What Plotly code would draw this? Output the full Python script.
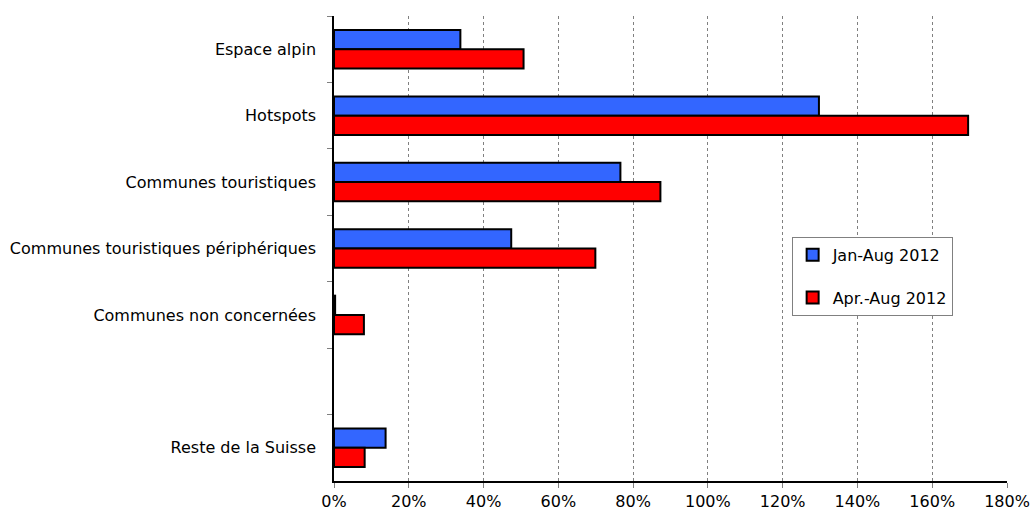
import plotly.graph_objects as go

# Regions (top to bottom); the blank entry leaves an empty slot before the national total
categories = [
    "Espace alpin",
    "Hotspots",
    "Communes touristiques",
    "Communes touristiques périphériques",
    "Communes non concernées",
    " ",
    "Reste de la Suisse",
]

# Growth in percent
jan_aug_2012 = [33.8, 129.7, 76.6, 47.4, 0.3, None, 13.8]
apr_aug_2012 = [50.7, 169.6, 87.3, 69.9, 8.0, None, 8.2]

series_names = ["Jan-Aug 2012", "Apr.-Aug 2012"]
series_colors = ["#3366FF", "#FF0000"]

x_ticks = list(range(0, 181, 20))
x_tick_labels = [f"{v}%" for v in x_ticks]

FONT = "DejaVu Sans"

fig = go.Figure()
for name, values, color in zip(series_names, [jan_aug_2012, apr_aug_2012], series_colors):
    fig.add_trace(go.Bar(
        y=categories,
        x=values,
        name=name,
        orientation="h",
        legendgroup=name,
        marker=dict(color=color, line=dict(color="#000000", width=2)),
    ))

fig.update_layout(
    width=1032,
    height=513,
    margin=dict(l=334, r=25, t=16, b=32),
    paper_bgcolor="white",
    plot_bgcolor="white",
    barmode="group",
    bargap=0.42,
    bargroupgap=0,
    font=dict(family=FONT, size=16, color="#000000"),
    legend=dict(
        x=0.68,
        y=0.525,
        xanchor="left",
        yanchor="top",
        bgcolor="white",
        bordercolor="#808080",
        borderwidth=1,
        tracegroupgap=19,
        itemwidth=30,
        font=dict(family=FONT, size=16, color="#000000"),
    ),
    xaxis=dict(
        range=[0, 180],
        tickvals=x_ticks,
        ticktext=x_tick_labels,
        showgrid=True,
        gridcolor="#808080",
        griddash="dot",
        gridwidth=1,
        showline=True,
        linecolor="#000000",
        linewidth=1.5,
        ticks="outside",
        ticklen=5,
        tickcolor="#808080",
        zeroline=False,
        automargin=False,
        fixedrange=True,
    ),
    yaxis=dict(
        type="category",
        categoryorder="array",
        categoryarray=categories,
        autorange="reversed",
        tickson="boundaries",
        ticks="outside",
        ticklen=5,
        tickcolor="#808080",
        showline=True,
        linecolor="#000000",
        linewidth=1.5,
        showgrid=False,
        zeroline=False,
        ticklabelstandoff=13,
        automargin=False,
        fixedrange=True,
    ),
)

fig.write_html("out.html")
